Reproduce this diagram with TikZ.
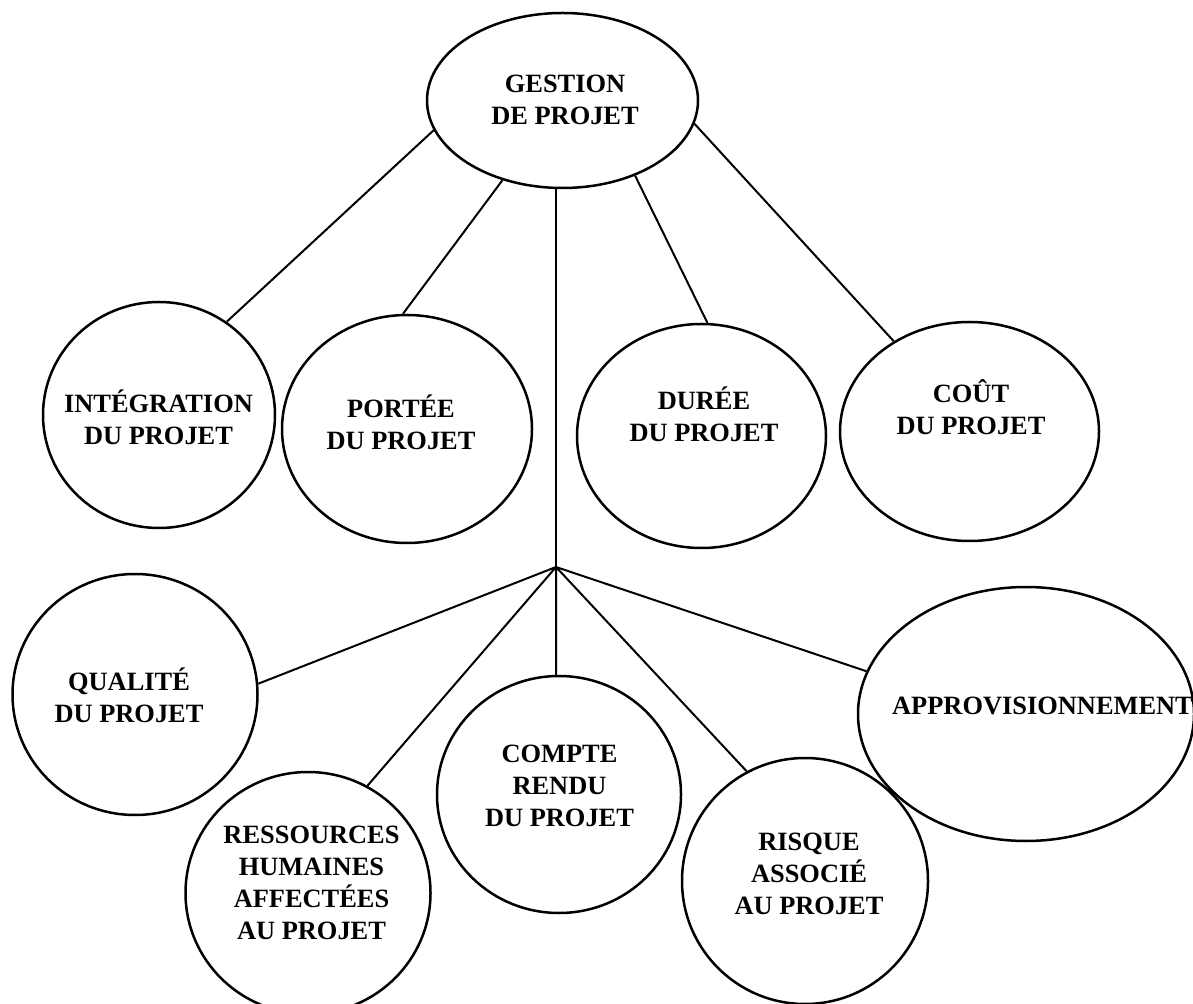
\documentclass[tikz,border=0pt]{standalone}
\usepackage{fontspec}
\setmainfont{Liberation Serif}
\usetikzlibrary{shapes.geometric}
\tikzset{
	bulle/.style={draw, ellipse, line width=1.25pt, inner sep=0pt},
	texte/.style={font=\bfseries\fontsize{13.2}{16}\selectfont, align=center, inner sep=0pt},
	lien/.style={line width=1pt}
}
\begin{document}
\begin{tikzpicture}[x=0.5pt,y=-0.5pt]
		\useasboundingbox(0,0) rectangle(1193,1004);
		\node[bulle, minimum width=135.5pt, minimum height=87.5pt](gestion) at(562.5,100.5){};
		\node[bulle, minimum width=116pt, minimum height=113pt](integ) at(159,415){};
		\node[bulle, minimum width=125pt, minimum height=114pt](portee) at(407,429){};
		\node[bulle, minimum width=124.5pt, minimum height=112pt](duree) at(701.5,436){};
		\node[bulle, minimum width=129.5pt, minimum height=109.5pt](cout) at(969.5,431.5){};
		\node[bulle, minimum width=122.5pt, minimum height=120.5pt](qualite) at(135,694.5){};
		\node[bulle, minimum width=122.5pt, minimum height=121pt](ressources) at(308,893){};
		\node[bulle, minimum width=122pt, minimum height=118.5pt](compte) at(559,794.5){};
		\node[bulle, minimum width=123pt, minimum height=123pt](risque) at(805,881){};
		\node[bulle, minimum width=168pt, minimum height=127pt](appro) at(1026,714){};
		\node[texte](t-gestion) at(565,100){GESTION\\DE PROJET};
		\node[texte](t-integ) at(158.5,417){INTÉGRATION\\DU PROJET};
		\node[texte](t-portee) at(401,422){PORTÉE\\DU PROJET};
		\node[texte](t-duree) at(704,414.5){DURÉE\\DU PROJET};
		\node[texte](t-cout) at(971,407){COÛT\\DU PROJET};
		\node[texte](t-qualite) at(129,695.5){QUALITÉ\\DU PROJET};
		\node[texte](t-ressources) at(311.5,883){RESSOURCES\\HUMAINES\\AFFECTÉES\\AU PROJET};
		\node[texte](t-compte) at(559.5,785.5){COMPTE\\RENDU\\DU PROJET};
		\node[texte](t-risque) at(809,873.5){RISQUE\\ASSOCIÉ\\AU PROJET};
		\node[texte](t-appro) at(1042.5,705.5){APPROVISIONNEMENT};
		\coordinate(N) at(556,567);
		\draw[lien](gestion.193.8)--(integ.54.5);
		\draw[lien](gestion.233.7)--(portee.92.2);
		\draw[lien](gestion.314.9)--(duree.87.3);
		\draw[lien](gestion.350.4)--(cout.130.6);
		\draw[lien](gestion.south -| N)--(N);
		\draw[lien](N)--(qualite.5.6)(N)--(ressources.61.4)(N)--(compte.north -| N)(N)--(risque.118.4)(N)--(appro.165.1);
		\end{tikzpicture}
\end{document}
